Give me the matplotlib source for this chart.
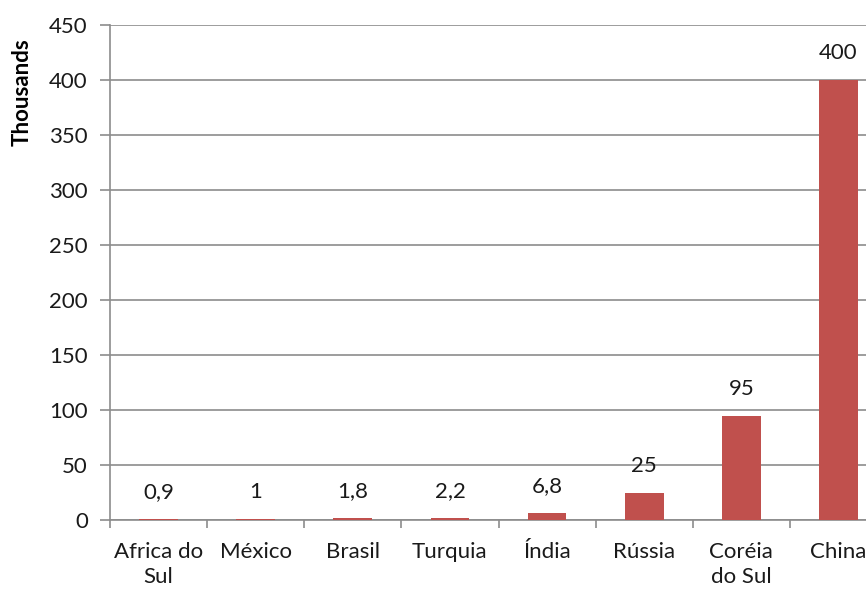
import matplotlib.pyplot as plt

# Values in thousands
countries = ["Africa do\nSul", "México", "Brasil", "Turquia", "Índia", "Rússia", "Coréia\ndo Sul", "China"]
values = [0.9, 1, 1.8, 2.2, 6.8, 25, 95, 400]
value_labels = ["0,9", "1", "1,8", "2,2", "6,8", "25", "95", "400"]
yticks = [0, 50, 100, 150, 200, 250, 300, 350, 400, 450]

plt.rcParams['font.family'] = ['Lato', 'DejaVu Sans']

fig = plt.figure(figsize=(8.66, 5.95), dpi=100)
# plot area runs past the right edge of the figure
ax = fig.add_axes([110 / 866, 75 / 595, 777 / 866, 495 / 595])

x = list(range(len(countries)))
ax.bar(x, values, width=0.4, color="#C0504D", zorder=3)

for xi, v, lab in zip(x, values, value_labels):
    ax.annotate(lab, (xi, v), xytext=(0, 12), textcoords="offset points",
                ha="center", va="bottom", fontsize=16, color="#1a1a1a")

ax.set_xlim(-0.5, len(countries) - 0.5)
ax.set_ylim(0, 450)
ax.set_yticks(yticks)
ax.set_yticklabels([str(t) for t in yticks], fontsize=16, color="#1a1a1a")
ax.yaxis.grid(True, color="#8c8c8c", linewidth=1.2, zorder=0)

ax.set_xticks(x)
ax.set_xticklabels(countries, fontsize=16, color="#1a1a1a", linespacing=1.3)
ax.set_xticks([i - 0.5 for i in range(len(countries) + 1)], minor=True)
ax.tick_params(axis="x", which="major", length=0, pad=16)
ax.tick_params(axis="x", which="minor", length=6, color="#8c8c8c", width=1.2)
ax.tick_params(axis="y", length=7, color="#8c8c8c", width=1.2, pad=9)

for side in ["top", "right"]:
    ax.spines[side].set_visible(False)
for side in ["left", "bottom"]:
    ax.spines[side].set_color("#8c8c8c")
    ax.spines[side].set_linewidth(1.2)

fig.text(22 / 866, 1 - 92 / 595, "Thousands", rotation=90, ha="center", va="center",
         fontsize=16, fontweight="bold")

fig.savefig("out.png", dpi=100)
